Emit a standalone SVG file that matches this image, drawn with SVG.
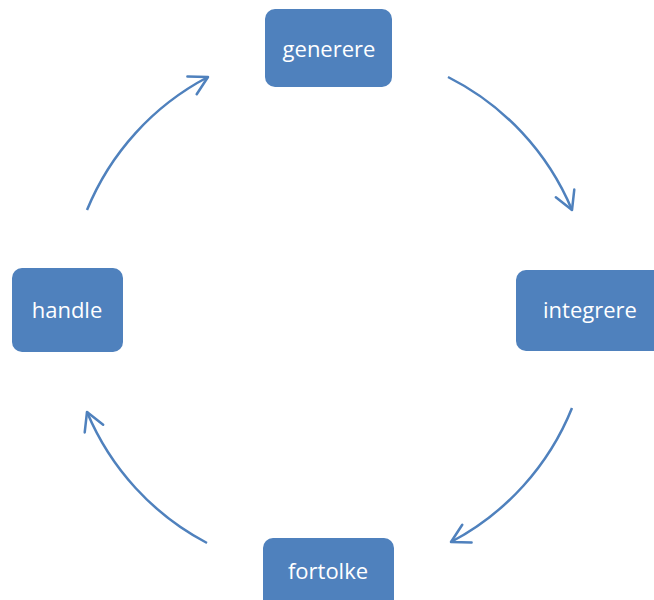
<svg xmlns="http://www.w3.org/2000/svg" width="654" height="600" viewBox="0 0 654 600">
<style>
.node{fill:#4F81BD;}
.lbl{fill:#ffffff;font-family:"Open Sans","Liberation Sans",sans-serif;font-size:22px;text-anchor:middle;}
.arc{fill:none;stroke:#4F81BD;stroke-width:2.5;marker-end:url(#ah);}
</style>
<defs>
<marker id="ah" markerUnits="userSpaceOnUse" viewBox="-22 -14 26 28" refX="0" refY="0" markerWidth="26" markerHeight="28" orient="auto" overflow="visible">
<path d="M-18,-10 L0,0 L-18,10" fill="none" stroke="#4F81BD" stroke-width="2.5" stroke-linejoin="round" stroke-linecap="round"/>
</marker>
</defs>
<rect width="654" height="600" fill="#ffffff"/>
<g id="connectors">
<path class="arc" d="M448,77 A262,262 0 0 1 572,210"/>
<path class="arc" d="M572,408 A262,262 0 0 1 451,542"/>
<path class="arc" d="M207,543 A262,262 0 0 1 87,412"/>
<path class="arc" d="M87,210 A262,262 0 0 1 208,77"/>
</g>
<g id="generere">
<rect class="node" x="265" y="9" width="127" height="78" rx="10"/>
<text class="lbl" x="329" y="57">generere</text>
</g>
<g id="integrere">
<rect class="node" x="516" y="270" width="150" height="81" rx="10"/>
<text class="lbl" x="590" y="318">integrere</text>
</g>
<g id="handle">
<rect class="node" x="12" y="268" width="111" height="84" rx="10"/>
<text class="lbl" x="67" y="318">handle</text>
</g>
<g id="fortolke">
<rect class="node" x="263" y="538" width="131" height="80" rx="10"/>
<text class="lbl" x="328" y="579">fortolke</text>
</g>
</svg>
